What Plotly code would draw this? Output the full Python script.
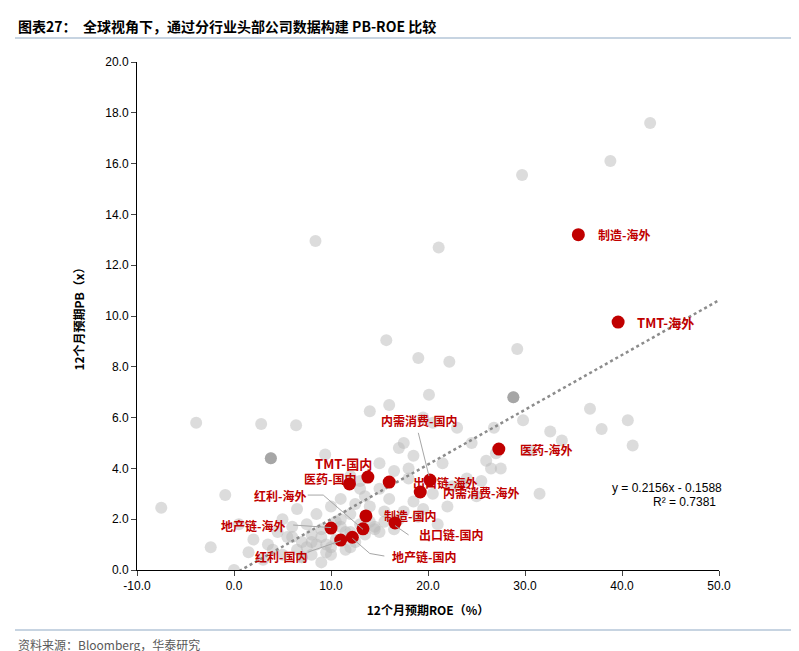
import plotly.graph_objects as go

# gray: all head companies (ROE %, PB x)
gray_roe = [42.9,38.8,29.7,8.4,21.1,36.7,40.6,41.1,37.9,33.8,32.6,29.2,29.8,28.8,26.8,22.2,19.0,15.7,20.1,-3.9,2.8,6.4,9.4,3.8,-7.5,-0.9,-2.4,0.0,
            14.0,16.0,17.5,18.5,19.5,20.5,21.5,23.0,24.5,25.5,26.5,27.0,30.5,31.5,15.0,13.0,12.0,17.0,18.0,16.5,22.5,24.0,
            2.0,3.5,4.5,5.0,5.5,6.0,6.5,7.0,7.5,8.0,8.5,9.0,9.5,10.0,10.5,11.0,11.5,12.0,12.5,13.0,13.5,14.0,14.5,15.0,15.5,16.0,
            6.5,7.5,8.5,9.5,10.5,11.5,12.5,13.5,14.5,15.5,16.5,17.5,18.5,19.5,20.5,
            7.0,8.0,9.0,10.0,11.0,12.0,13.0,14.0,5.0,4.0,3.0,1.5,0.5,22.0,23.5,25.0,18.0,19.0,
            8.0,9.0,10.0,11.0,12.0,6.0,7.0,17.0,21.0,15.0,27.5,26.0]
gray_pb = [17.6,16.1,15.55,12.95,12.7,6.35,5.9,4.9,5.55,5.1,5.45,8.7,5.9,6.8,5.6,8.2,8.35,9.05,6.9,5.8,5.75,5.7,4.55,4.4,2.45,2.95,0.9,0.0,
           6.25,6.5,5.0,4.5,6.0,5.8,4.2,5.6,5.0,3.5,4.0,4.6,4.7,3.0,4.2,3.5,3.7,4.8,4.0,3.9,3.3,3.6,
           1.2,1.0,1.5,2.0,1.3,1.7,2.4,1.1,1.8,1.4,2.2,1.6,1.0,2.5,1.9,2.8,1.5,2.2,2.6,1.8,2.9,2.5,1.7,3.2,2.3,2.8,
           0.8,0.9,1.0,0.7,1.2,0.8,1.1,1.4,1.6,1.9,1.6,2.3,2.7,2.4,3.0,
           0.5,0.6,1.3,0.9,2.0,1.5,3.2,1.9,0.6,0.8,0.4,0.7,1.8,2.5,3.4,2.9,3.6,2.1,
           1.1,0.3,0.6,1.7,0.9,1.3,0.5,2.0,1.8,1.5,4.0,4.3]
dark_roe = [3.8, 28.8]
dark_pb = [4.4, 6.8]

red_names = ["制造-海外","TMT-海外","医药-海外","TMT-国内","医药-国内","内需消费-国内","出口链-海外",
             "内需消费-海外","制造-国内","出口链-国内","地产链-海外","红利-国内","地产链-国内","红利-海外"]
red_roe = [35.5,39.6,27.3,13.8,11.9,16.0,20.2,19.2,13.6,16.6,10.0,11.0,12.2,13.3]
red_pb = [13.2,9.76,4.76,3.66,3.39,3.46,3.54,3.07,2.13,1.85,1.65,1.18,1.29,1.62]

slope, intercept, r2 = 0.2156, -0.1588, 0.7381
x_ticks = [-10,0,10,20,30,40,50]
y_ticks = [0,2,4,6,8,10,12,14,16,18,20]

RED = "#c00000"
fig = go.Figure()
fig.add_trace(go.Scatter(x=gray_roe, y=gray_pb, mode="markers",
    marker=dict(size=12, color="rgba(185,185,185,0.5)", line=dict(width=0)), hoverinfo="skip"))
fig.add_trace(go.Scatter(x=dark_roe, y=dark_pb, mode="markers",
    marker=dict(size=12, color="#a6a6a6"), hoverinfo="skip"))
tx = [0, 50]
fig.add_trace(go.Scatter(x=tx, y=[slope*v+intercept for v in tx], mode="lines",
    line=dict(color="#8c8c8c", width=2.5, dash="dot"), hoverinfo="skip"))
fig.add_trace(go.Scatter(x=red_roe, y=red_pb, mode="markers",
    marker=dict(size=13, color=RED), hoverinfo="skip"))

lab = {
 "制造-海外": (37.3,13.2,"left"), "TMT-海外": (41.3,9.76,"left"), "医药-海外": (29.3,4.76,"left"),
 "TMT-国内": (11.3,4.2,"center"), "医药-国内": (9.9,3.62,"center"), "内需消费-国内": (19.1,5.87,"center"),
 "出口链-海外": (21.8,3.46,"center"), "内需消费-海外": (25.5,3.07,"center"), "制造-国内": (18.1,2.13,"center"),
 "出口链-国内": (22.4,1.38,"center"), "地产链-海外": (2.0,1.77,"center"), "红利-国内": (4.8,0.55,"center"),
 "地产链-国内": (19.6,0.55,"center"), "红利-海外": (4.7,2.95,"center"),
}
for n in red_names:
    x, y, a = lab[n]
    big = n in ("TMT-海外", "TMT-国内")
    fig.add_annotation(x=x, y=y, text=f"<b>{n}</b>", showarrow=False, xanchor=a,
        font=dict(color=RED, size=13 if big else 12, family="Noto Sans CJK SC"))

leaders = [
 [(19.0,5.4),(20.1,3.7)],
 [(7.6,2.95),(9.2,2.95),(13.3,1.6)],
 [(6.1,1.77),(10.0,1.67)],
 [(18.0,1.38),(16.6,1.75)],
 [(7.6,0.7),(11.0,1.15)],
 [(15.5,0.55),(14.0,0.65),(12.2,1.25)],
]
for pts in leaders:
    fig.add_trace(go.Scatter(x=[p[0] for p in pts], y=[p[1] for p in pts], mode="lines",
        line=dict(color="#a6a6a6", width=1), hoverinfo="skip"))

fig.add_annotation(x=44.6, y=3.23, text=f"y = {slope}x - {abs(intercept)}", showarrow=False,
    font=dict(size=12, color="black", family="Liberation Sans"))
fig.add_annotation(x=49.9, y=2.67, text=f"R² = {r2}", showarrow=False, xanchor="right",
    font=dict(size=12, color="black", family="Liberation Sans"))

fig.update_layout(
    width=799, height=651, showlegend=False, plot_bgcolor="white", paper_bgcolor="white",
    margin=dict(l=129, r=88, t=54, b=89, autoexpand=False),
    font=dict(family="Liberation Sans", size=12, color="black"),
    xaxis=dict(range=[-10,50], tickvals=x_ticks, ticktext=[f"{v:.1f}" for v in x_ticks], automargin=False,
        showgrid=False, zeroline=False, showline=True, linecolor="black", ticks="outside", ticklen=5,
        title=dict(text="<b>12个月预期ROE（%）</b>", font=dict(size=12, family="Noto Sans CJK SC"), standoff=14)),
    yaxis=dict(range=[0,20], tickvals=y_ticks, ticktext=[f"{v:.1f}" for v in y_ticks], automargin=False,
        showgrid=False, zeroline=False, showline=True, linecolor="black", ticks="outside", ticklen=5,
        title=dict(text="<b>12个月预期PB（x）</b>", font=dict(size=12, family="Noto Sans CJK SC"), standoff=18)),
)
fig.add_annotation(xref="paper", yref="paper", x=-121/582, y=1+(54-18)/508, xanchor="left", yanchor="middle",
    text="<b>图表27：  全球视角下，通过分行业头部公司数据构建 PB-ROE 比较</b>", showarrow=False,
    font=dict(size=14, family="Noto Sans CJK SC"))
fig.add_annotation(xref="paper", yref="paper", x=-121/582, y=-(636-562)/508, xanchor="left", yanchor="middle",
    text="资料来源：Bloomberg，华泰研究", showarrow=False,
    font=dict(size=12, color="#595959", family="Noto Sans CJK SC"))
fig.add_shape(type="line", xref="paper", yref="paper", x0=-122/582, x1=665/582,
    y0=1+(54-30)/508, y1=1+(54-30)/508, line=dict(color="#8fa9c4", width=1))
fig.add_shape(type="line", xref="paper", yref="paper", x0=-122/582, x1=665/582,
    y0=-(622-562)/508, y1=-(622-562)/508, line=dict(color="#8fa9c4", width=1))
fig.write_html("out.html")
